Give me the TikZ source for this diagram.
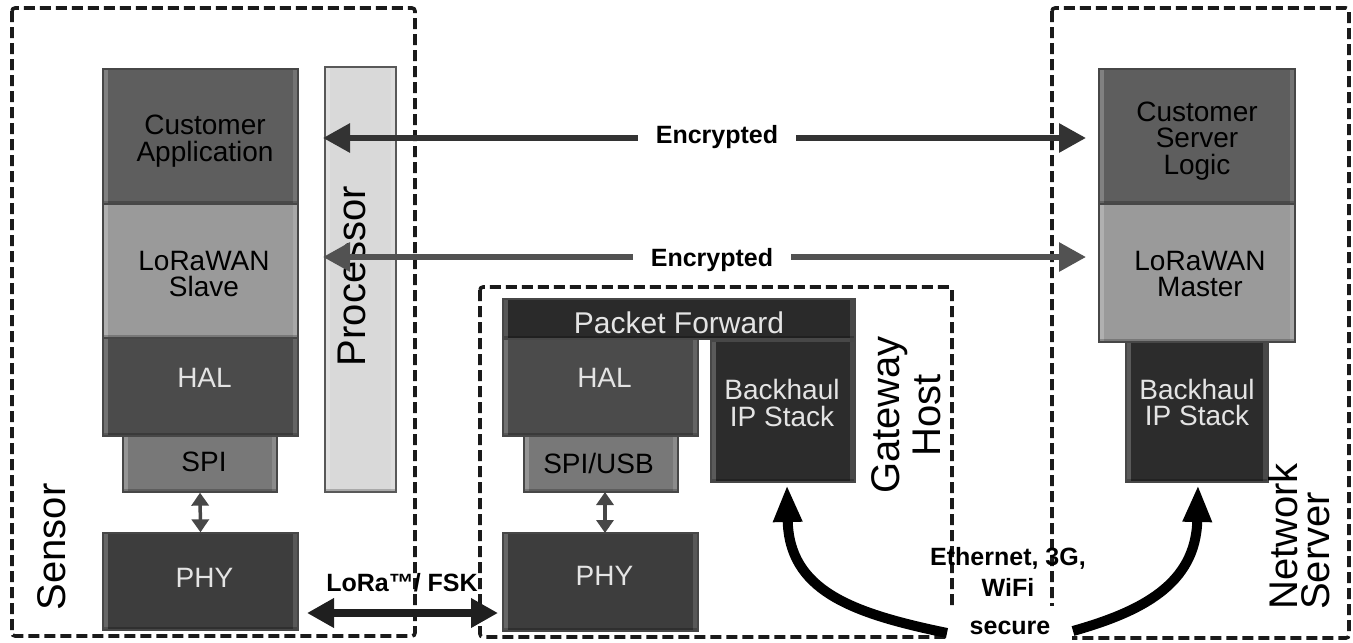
\documentclass[tikz,border=0pt]{standalone}
\usepackage{fontspec}
\setmainfont{Liberation Sans}
\usetikzlibrary{arrows.meta}
\definecolor{cApp}{HTML}{5E5E5E}
\definecolor{cLora}{HTML}{9A9A9A}
\definecolor{cHal}{HTML}{4B4B4B}
\definecolor{cSpi}{HTML}{787878}
\definecolor{cPhy}{HTML}{3D3D3D}
\definecolor{cPf}{HTML}{2A2A2A}
\definecolor{cBh}{HTML}{2C2C2C}
\definecolor{cProc}{HTML}{D9D9D9}
\definecolor{cTxtL}{HTML}{E4E4E4}
\definecolor{cDash}{HTML}{1A1A1A}
\newcommand\blkfont{\fontsize{28}{26.5}\selectfont}
\newcommand\bigfont{\fontsize{40}{42}\selectfont}
\newcommand\lblfont{\fontsize{25}{31}\selectfont\bfseries}
\begin{document}
\begin{tikzpicture}[x=1pt,y=-1pt,
  bevel/.style={path picture={
    \fill[white,opacity=.22] (path picture bounding box.south west) rectangle ([xshift=5pt]path picture bounding box.north west);
    \fill[white,opacity=.14] ([xshift=-5pt]path picture bounding box.south east) rectangle (path picture bounding box.north east);
    \fill[black,opacity=.22] (path picture bounding box.south west) rectangle ([yshift=3pt]path picture bounding box.south east);
  }},
  blk/.style={draw=black!72, line width=1.3pt, inner sep=0pt, bevel},
  txtd/.style={font=\blkfont, text=black, align=center, inner sep=0pt},
  txtl/.style={font=\blkfont, text=cTxtL, align=center, inner sep=0pt},
  side/.style={font=\bigfont, text=black, rotate=90, inner sep=0pt},
  dbox/.style={draw=cDash, line width=3.6pt, dash pattern=on 11pt off 5pt, rounded corners=3pt},
  lbl/.style={font=\lblfont, text=black, align=center, inner sep=0pt},
  enc/.style={line width=6pt, {Triangle[length=27pt,width=28pt]}-{Triangle[length=27pt,width=28pt]}},
  small/.style={line width=3.5pt, draw=black!72, {Triangle[length=13pt,width=17pt]}-{Triangle[length=13pt,width=17pt]}},
  radio/.style={line width=8pt, draw=black!88, {Triangle[length=27pt,width=28pt]}-{Triangle[length=27pt,width=28pt]}},
  curve/.style={line width=10pt, draw=black, -{Triangle[length=37pt,width=27pt]}}
]
\useasboundingbox (0,0) rectangle (1353,643);

% dashed enclosures
\draw[dbox] (12,8) rectangle (415,636);
\draw[dbox] (480,287) rectangle (952,637);
\draw[dbox] (1052,8) rectangle (1349,638);

% Sensor blocks
\node[blk, fill=cApp, minimum width=195pt, minimum height=135pt] (sapp) at (200.5,136.5) {};
\node[blk, fill=cLora, minimum width=195pt, minimum height=134pt] (slora) at (200.5,271) {};
\node[blk, fill=cHal, minimum width=195pt, minimum height=98pt] (shal) at (200.5,387) {};
\node[blk, fill=cSpi, minimum width=154pt, minimum height=56pt] (sspi) at (200,464) {};
\node[blk, fill=cPhy, minimum width=195pt, minimum height=97pt] (sphy) at (200.5,581.5) {};
\node[blk, fill=cProc, draw=black!65, line width=2.2pt, minimum width=71pt, minimum height=425pt] (proc) at (360.5,279.5) {};

\node[txtd] (tsapp) at (205,141) {Customer\\Application};
\node[txtd] (tslora) at (204,274) {LoRaWAN\\Slave};
\node[txtl] (tshal) at (204.5,378) {HAL};
\node[txtd] (tsspi) at (204,462) {SPI};
\node[txtl] (tsphy) at (204.5,577.5) {PHY};
\node[side] (tproc) at (352,276) {Processor};
\node[side] (tsensor) at (52,547) {Sensor};

% Gateway blocks
\node[blk, fill=cPf, minimum width=352pt, minimum height=40pt] (gpf) at (679,319) {};
\node[blk, fill=cHal, minimum width=195pt, minimum height=97pt] (ghal) at (600.5,387.5) {};
\node[blk, fill=cSpi, minimum width=154pt, minimum height=56pt] (gspi) at (601,464) {};
\node[blk, fill=cBh, minimum width=144pt, minimum height=141pt] (gbh) at (783,411.5) {};
\node[blk, fill=cPhy, minimum width=195pt, minimum height=98pt] (gphy) at (600.5,582) {};

\node[txtl, font=\fontsize{30}{30}\selectfont] (tgpf) at (679,322.5) {Packet Forward};
\node[txtl] (tghal) at (604.5,378) {HAL};
\node[txtd] (tgspi) at (598.5,463) {SPI/USB};
\node[txtl] (tgbh) at (782,403) {Backhaul\\IP Stack};
\node[txtl] (tgphy) at (604.5,575.5) {PHY};
\node[side, align=center, font=\fontsize{40}{41}\selectfont] (tgw) at (906,415) {Gateway\\Host};

% Network server blocks
\node[blk, fill=cApp, minimum width=196pt, minimum height=135pt] (napp) at (1197,136.5) {};
\node[blk, fill=cLora, minimum width=196pt, minimum height=138pt] (nlora) at (1197,273) {};
\node[blk, fill=cBh, minimum width=142pt, minimum height=140pt] (nbh) at (1197,412) {};

\node[txtd] (tnapp) at (1197,141) {Customer\\Server\\Logic};
\node[txtd] (tnlora) at (1200,274) {LoRaWAN\\Master};
\node[txtl] (tnbh) at (1197,402.5) {Backhaul\\IP Stack};
\node[side, align=left, font=\fontsize{40}{32}\selectfont] (tns) at (1299,536.5) {Network\\Server};

% encrypted links
\coordinate (e1l) at (323,138);
\coordinate (e1r) at (1086,138);
\coordinate (e2l) at (323,257);
\coordinate (e2r) at (1086,257);
\draw[enc, draw=black!80] (e1l) -- (e1r);
\draw[enc, draw=black!68] (e2l) -- (e2r);
\node[lbl, fill=white, minimum width=158pt, minimum height=44pt] (enc1) at (717,137) {Encrypted};
\node[lbl, fill=white, minimum width=158pt, minimum height=44pt] (enc2) at (712,260) {Encrypted};

% SPI <-> PHY
\draw[small] (sspi.south) -- (sphy.north);
\coordinate (gs1) at (605,492);
\coordinate (gs2) at (605,533);
\draw[small] (gs1) -- (gs2);

% radio link
\coordinate (rl) at (307,613);
\coordinate (rr) at (498,613);
\draw[radio] (rl) -- (rr);
\node[lbl] (tradio) at (402,583) {LoRa™/ FSK};

% backhaul
\node[lbl] (teth) at (1008,571.5) {Ethernet, 3G,\\WiFi};
\fill[white] (948,606) rectangle (1072,643);
\coordinate (cl0) at (947,633);
\coordinate (cl1) at (787,485);
\coordinate (cr0) at (1073,631);
\coordinate (cr1) at (1198,485);
\draw[curve] (cl0) .. controls (850,613) and (789,590) .. (cl1);
\draw[curve] (cr0) .. controls (1140,612) and (1196,585) .. (cr1);
\node[lbl] (tsec) at (1010,628) {secure};
\end{tikzpicture}
\end{document}
